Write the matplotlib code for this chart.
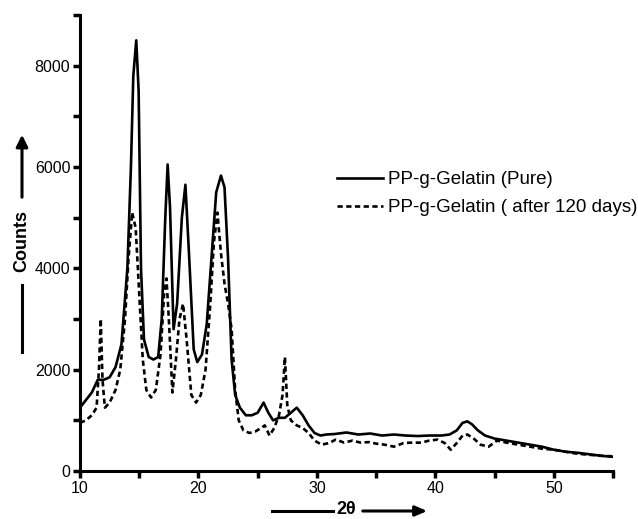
import matplotlib
matplotlib.use("Agg")
import matplotlib.pyplot as plt
from matplotlib.ticker import MultipleLocator

plt.rcParams['font.family'] = ['Liberation Sans', 'DejaVu Sans']

# 2-theta positions and counts
x_pure = [10, 10.5, 11, 11.5, 12, 12.5, 13, 13.5, 14.0, 14.3,
          14.5, 14.75, 14.95, 15.15, 15.4, 15.8, 16.2, 16.6, 16.9, 17.2,
          17.4, 17.6, 17.9, 18.2, 18.6, 18.9, 19.2, 19.6, 19.9, 20.3,
          20.7, 21.1, 21.5, 21.9, 22.2, 22.5, 22.8, 23.1, 23.5, 24,
          24.5, 25, 25.5, 25.9, 26.3, 26.8, 27.3, 27.8, 28.3, 28.8,
          29.3, 29.8, 30.3, 30.8, 31.5, 32.5, 33.5, 34.5, 35.5, 36.5,
          37.5, 38.5, 39.5, 40.5, 41.2, 41.8, 42.3, 42.7, 43.1, 43.6,
          44.2, 45, 46, 47, 48, 49, 50, 51, 52, 53,
          54, 55]
y_pure = [1250, 1400, 1550, 1800, 1800, 1850, 2050, 2500, 4000, 6000,
          7800, 8500, 7500, 4000, 2600, 2250, 2200, 2250, 3000, 5000,
          6050, 5200, 2800, 3300, 5000, 5650, 4300, 2400, 2150, 2300,
          2900, 4200, 5500, 5830, 5600, 4200, 2200, 1500, 1250, 1100,
          1100, 1150, 1350, 1150, 1000, 1050, 1050, 1150, 1250, 1100,
          900, 750, 700, 720, 730, 760, 720, 740, 700, 720,
          700, 690, 700, 700, 720, 800, 950, 980, 920, 800,
          700, 640, 600, 560, 520, 480, 420, 380, 360, 330,
          300, 280]

x_aged = [10, 10.5, 11, 11.4, 11.6, 11.75, 11.9, 12.1, 12.5, 13,
          13.4, 13.8, 14.1, 14.4, 14.7, 15, 15.3, 15.6, 16, 16.4,
          16.8, 17.1, 17.3, 17.5, 17.8, 18.1, 18.4, 18.7, 19, 19.4,
          19.8, 20.2, 20.6, 21, 21.3, 21.6, 21.9, 22.2, 22.5, 22.8,
          23.1, 23.4, 23.8, 24.3, 24.8, 25.3, 25.6, 26, 26.4, 26.8,
          27.1, 27.3, 27.5, 27.8, 28.3, 28.8, 29.3, 29.8, 30.4, 31,
          31.6, 32.3, 33, 33.7, 34.4, 35, 35.7, 36.5, 37.3, 38,
          38.8, 39.5, 40.2, 40.8, 41.3, 41.8, 42.3, 42.7, 43.2, 43.8,
          44.5, 45.2, 46, 47, 48, 49, 50, 51, 52, 53,
          54, 55]
y_aged = [950, 1000, 1100, 1250, 2000, 3000, 1800, 1250, 1350, 1600,
          2000, 3000, 4200, 5100, 4800, 3500, 2200, 1600, 1450, 1600,
          2300, 3500, 3800, 3000, 1550, 2200, 3000, 3300, 2600, 1500,
          1350, 1500, 2000, 3300, 4500, 5100, 4300, 3700, 3300, 2800,
          1600, 1000, 800, 750, 780, 850, 900, 700, 850, 1100,
          1500, 2250, 1300, 1000, 900, 850, 750, 600, 520, 550,
          620, 560, 600, 560, 570, 540, 520, 480, 550, 560,
          560, 600, 620, 550, 420, 550, 700, 720, 650, 520,
          480, 600, 560, 520, 480, 440, 420, 380, 340, 320,
          300, 290]

labels = ["PP-g-Gelatin (Pure)", "PP-g-Gelatin ( after 120 days)"]
x_ticks = [10, 20, 30, 40, 50]
y_ticks = [0, 2000, 4000, 6000, 8000]

W, H = 638, 519
fig = plt.figure(figsize=(W / 100, H / 100), dpi=100)
ax = fig.add_axes([80 / W, 1 - 471 / H, (613 - 80) / W, (471 - 15) / H])

ax.plot(x_pure, y_pure, color='black', lw=1.9, label=labels[0])
ax.plot(x_aged, y_aged, color='black', lw=1.9, ls=(0, (2.0, 1.3)), label=labels[1])

ax.set_xlim(10, 55)
ax.set_ylim(0, 9000)
ax.set_xticks(x_ticks)
ax.set_yticks(y_ticks)
ax.xaxis.set_minor_locator(MultipleLocator(5))
ax.yaxis.set_minor_locator(MultipleLocator(1000))
for s in ['top', 'right']:
    ax.spines[s].set_visible(False)
for s in ['left', 'bottom']:
    ax.spines[s].set_linewidth(2.2)
ax.tick_params(which='both', direction='out', width=2.5, length=5, labelsize=11.5, pad=2)

leg = ax.legend(loc='upper left', bbox_to_anchor=(337 / W, 1 - 171 / H),
                bbox_transform=fig.transFigure, frameon=False, fontsize=13.5,
                handlelength=2.45, handletextpad=0.27, borderpad=0, borderaxespad=0,
                labelspacing=0.6)

# Y axis label with arrow
fig.text(22 / W, 1 - 241 / H, "Counts", rotation=90, ha='center', va='center',
         fontsize=13, fontweight='bold')
fig.add_artist(plt.Line2D([22 / W, 22 / W], [1 - 352 / H, 1 - 285 / H],
                          color='black', lw=2.2, transform=fig.transFigure))
ax.annotate("", xy=(22 / W, 1 - 132 / H), xytext=(22 / W, 1 - 200 / H),
            xycoords='figure fraction', textcoords='figure fraction',
            arrowprops=dict(arrowstyle='-|>,head_width=0.35,head_length=0.7', color='black', lw=2.2))

# X axis label with arrow
fig.text(346 / W, 1 - 510 / H, "2θ", ha='center', va='center',
         fontsize=13, fontweight='bold')
fig.add_artist(plt.Line2D([272 / W, 333 / W], [1 - 511 / H, 1 - 511 / H],
                          color='black', lw=2.2, transform=fig.transFigure))
ax.annotate("", xy=(430 / W, 1 - 511 / H), xytext=(360 / W, 1 - 511 / H),
            xycoords='figure fraction', textcoords='figure fraction',
            arrowprops=dict(arrowstyle='-|>,head_width=0.3,head_length=0.7', color='black', lw=2.2))

fig.savefig("out.png", dpi=100)
